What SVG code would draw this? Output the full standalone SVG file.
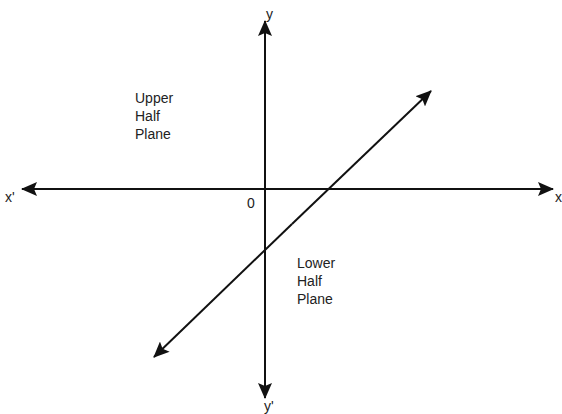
<svg xmlns="http://www.w3.org/2000/svg" width="562" height="414" viewBox="0 0 562 414">
<defs>
<style>
.ax{stroke:#111;stroke-width:2;fill:none}
.t{font-family:"Liberation Sans",Arial,sans-serif;font-size:14px;fill:#222}
</style>
<marker id="ah" viewBox="0 0 16 14" refX="15" refY="7" markerWidth="16" markerHeight="14" markerUnits="userSpaceOnUse" orient="auto">
<path d="M0,0 L16,7 L0,14 L3,7 Z" fill="#111"/>
</marker>
</defs>
<rect width="562" height="414" fill="#fff"/>
<g id="connectors">
<line class="ax" x1="265" y1="189" x2="265" y2="21" marker-end="url(#ah)"/>
<line class="ax" x1="265" y1="189" x2="265" y2="398" marker-end="url(#ah)"/>
<line class="ax" x1="265" y1="189" x2="22" y2="189" marker-end="url(#ah)"/>
<line class="ax" x1="265" y1="189" x2="553" y2="189" marker-end="url(#ah)"/>
<line class="ax" x1="292" y1="224" x2="431" y2="91" marker-end="url(#ah)"/>
<line class="ax" x1="292" y1="224" x2="154" y2="357" marker-end="url(#ah)"/>
</g>
<g id="label-y"><text class="t" x="266" y="19">y</text></g>
<g id="label-yprime"><text class="t" x="264" y="411">y'</text></g>
<g id="label-xprime"><text class="t" x="5" y="202">x'</text></g>
<g id="label-x"><text class="t" x="555" y="202">x</text></g>
<g id="label-origin"><text class="t" x="247" y="208">0</text></g>
<g id="upper-half-plane">
<text class="t" x="135" y="103">Upper</text>
<text class="t" x="135" y="121">Half</text>
<text class="t" x="135" y="139">Plane</text>
</g>
<g id="lower-half-plane">
<text class="t" x="297" y="268">Lower</text>
<text class="t" x="297" y="286">Half</text>
<text class="t" x="297" y="304">Plane</text>
</g>
</svg>
